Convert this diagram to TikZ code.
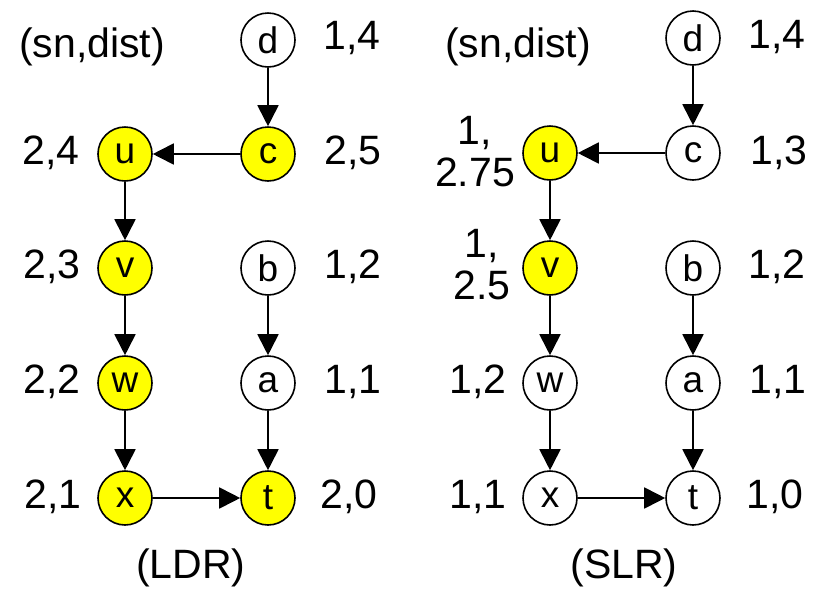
\documentclass[tikz,border=0pt]{standalone}
\usepackage{fontspec}
\setmainfont{Liberation Sans}
\usetikzlibrary{arrows.meta}
\definecolor{hl}{RGB}{255,255,0}
\tikzset{
  vert/.style={circle, draw=black, line width=1.6pt, minimum size=54pt, inner sep=0pt, fill=white, font=\fontsize{37}{40}\selectfont},
  hot/.style={vert, fill=hl},
  lbl/.style={font=\fontsize{41}{42}\selectfont, inner sep=0pt, align=center},
  edge/.style={line width=1.8pt, -{Triangle[width=21pt,length=21pt]}}
}
\begin{document}
\begin{tikzpicture}[x=1pt,y=-1pt]
\useasboundingbox (0,0) rectangle (823,590);
% ---------- left graph (LDR)
\node[vert] (d1) at (268,40) {d};
\node[hot]  (c1) at (268,154) {c};
\node[hot]  (u1) at (125,154) {u};
\node[hot]  (v1) at (125,268) {v};
\node[vert] (b1) at (268,268) {b};
\node[hot]  (w1) at (125,383) {w};
\node[vert] (a1) at (268,383) {a};
\node[hot]  (x1) at (125,498) {x};
\node[hot]  (t1) at (268,498) {t};
\draw[edge] (d1) -- (c1);
\draw[edge] (c1) -- (u1);
\draw[edge] (u1) -- (v1);
\draw[edge] (v1) -- (w1);
\draw[edge] (w1) -- (x1);
\draw[edge] (x1) -- (t1);
\draw[edge] (b1) -- (a1);
\draw[edge] (a1) -- (t1);
\node[lbl] (sd1) at (92,47) {(sn,dist)};
\node[lbl] (ld1) at (352,38) {1,4};
\node[lbl] (lc1) at (353,153) {2,5};
\node[lbl] (lu1) at (51,153) {2,4};
\node[lbl] (lv1) at (52,267) {2,3};
\node[lbl] (lb1) at (353,267) {1,2};
\node[lbl] (lw1) at (52,382) {2,2};
\node[lbl] (la1) at (353,382) {1,1};
\node[lbl] (lx1) at (53,497) {2,1};
\node[lbl] (lt1) at (349,497) {2,0};
\node[lbl] (tt1) at (191,568) {(LDR)};
% ---------- right graph (SLR)
\node[vert] (d2) at (693,38) {d};
\node[vert] (c2) at (693,153) {c};
\node[hot]  (u2) at (550,153) {u};
\node[hot]  (v2) at (550,268) {v};
\node[vert] (b2) at (693,268) {b};
\node[vert] (w2) at (550,383) {w};
\node[vert] (a2) at (693,383) {a};
\node[vert] (x2) at (550,498) {x};
\node[vert] (t2) at (693,498) {t};
\draw[edge] (d2) -- (c2);
\draw[edge] (c2) -- (u2);
\draw[edge] (u2) -- (v2);
\draw[edge] (v2) -- (w2);
\draw[edge] (w2) -- (x2);
\draw[edge] (x2) -- (t2);
\draw[edge] (b2) -- (a2);
\draw[edge] (a2) -- (t2);
\node[lbl] (sd2) at (518,47) {(sn,dist)};
\node[lbl] (ld2) at (777,37) {1,4};
\node[lbl] (lc2) at (779,153) {1,3};
\node[lbl] (lu2) at (475,152) {1,\\2.75};
\node[lbl] (lv2) at (482,265) {1,\\2.5};
\node[lbl] (lb2) at (777,267) {1,2};
\node[lbl] (lw2) at (478,382) {1,2};
\node[lbl] (la2) at (778,382) {1,1};
\node[lbl] (lx2) at (478,497) {1,1};
\node[lbl] (lt2) at (775,497) {1,0};
\node[lbl] (tt2) at (624,568) {(SLR)};
\end{tikzpicture}
\end{document}
